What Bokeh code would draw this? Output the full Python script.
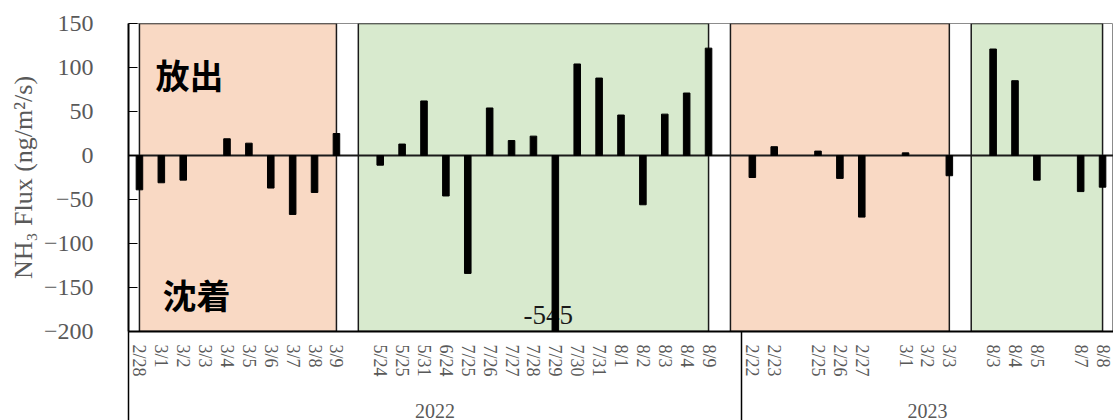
import math
from bokeh.plotting import figure
from bokeh.models import Range1d, FixedTicker, LinearAxis
from bokeh.core.properties import value
from bokeh.embed import file_html
from bokeh.resources import INLINE

# ---- data -------------------------------------------------------------
dates_2022 = ["2/28", "3/1", "3/2", "3/3", "3/4", "3/5", "3/6", "3/7", "3/8", "3/9", "",
              "5/24", "5/25", "5/31", "6/24", "7/25", "7/26", "7/27", "7/28", "7/29",
              "7/30", "7/31", "8/1", "8/2", "8/3", "8/4", "8/9", ""]
flux_2022 = [-39, -31, -28, None, 19, 14, -37, -67, -42, 25, None,
             -11, 13, 62, -46, -134, 54, 17, 22, -545,
             104, 88, 46, -56, 47, 71, 122, None]
dates_2023 = ["2/22", "2/23", "", "2/25", "2/26", "2/27", "", "3/1", "3/2", "3/3", "",
              "8/3", "8/4", "8/5", "", "8/7", "8/8"]
flux_2023 = [-25, 10, None, 5, -26, -70, None, 3, None, -23, None,
             121, 85, -28, None, -41, -36]
years = ["2022", "2023"]

# measurement periods (first / last category index) and their season
period_first = [0, 10, 27, 38]
period_last = [9, 26, 37, 44]
period_season = ["winter", "summer", "winter", "summer"]
season_color = {"winter": "#F9D9C4", "summer": "#D8EACE"}

y_ticks = [-200, -150, -100, -50, 0, 50, 100, 150]
Y_MIN, Y_MAX = -200, 150

# ---- derived ----------------------------------------------------------
dates = dates_2022 + dates_2023
flux = flux_2022 + flux_2023
year_sizes = [len(dates_2022), len(dates_2023)]

bar_x = [i for i, v in enumerate(flux) if v is not None]
bar_top = [flux[i] for i in bar_x]

label_idx = [i for i, d in enumerate(dates) if d != ""]
overrides = {i: dates[i] for i in label_idx}

bounds = [-0.5]
for s in year_sizes:
    bounds.append(bounds[-1] + s)
year_centers = [(bounds[k] + bounds[k + 1]) / 2 for k in range(len(years))]

p = figure(width=1113, height=420,
           x_range=Range1d(-0.5, 44.5), y_range=Range1d(Y_MIN, Y_MAX),
           output_backend="svg", toolbar_location=None,
           min_border_left=128, min_border_right=0,
           min_border_top=23, min_border_bottom=89)
p.background_fill_color = "white"
p.border_fill_color = "white"
p.outline_line_color = "#8c8c8c"
p.outline_line_width = 1
p.grid.visible = False

# seasonal backgrounds
p.quad(left=period_first, right=period_last,
       bottom=[Y_MIN] * len(period_first), top=[Y_MAX] * len(period_first),
       fill_color=[season_color[s] for s in period_season],
       line_color="#1a1a1a", line_width=1.5)

# zero line
p.hspan(y=[0], line_color="#1a1a1a", line_width=2)

# label for out-of-range values
off_x = [i for i in bar_x if flux[i] < Y_MIN]
p.text(x=off_x, y=[Y_MIN] * len(off_x), text=[str(flux[i]) for i in off_x],
       text_font=value("Liberation Serif"), text_font_size="27px",
       text_color="#1a1a1a", text_align="center", text_baseline="bottom",
       x_offset=-7, y_offset=-8)

# bars
p.vbar(x=bar_x, top=bar_top, bottom=0, width=0.3, fill_color="black", line_color="black")

# annotations
p.text(x=[0.73], y=[91.5], text=["放出"], text_font=value("Noto Sans CJK JP"),
       text_font_style="bold", text_font_size="34px", text_color="black",
       text_align="left", text_baseline="middle")
p.text(x=[1.05], y=[-158.5], text=["沈着"], text_font=value("Noto Sans CJK JP"),
       text_font_style="bold", text_font_size="34px", text_color="black",
       text_align="left", text_baseline="middle")

# y axis
ya = p.yaxis[0]
ya.ticker = FixedTicker(ticks=y_ticks)
ya.axis_label = "NH₃ Flux (ng/m²/s)"
ya.axis_label_text_font = "Liberation Serif"
ya.axis_label_text_font_style = "normal"
ya.axis_label_text_font_size = "26px"
ya.axis_label_text_color = "#595959"
ya.axis_label_standoff = 3
ya.major_label_text_font = "Liberation Serif"
ya.major_label_text_font_size = "24px"
ya.major_label_text_color = "#595959"
ya.major_label_standoff = 35
ya.major_tick_in = 9
ya.major_tick_out = 0
ya.major_tick_line_color = "black"
ya.major_tick_line_width = 1
ya.minor_tick_line_color = None
ya.axis_line_color = "black"
ya.axis_line_width = 2

# date axis
xa = p.xaxis[0]
xa.ticker = FixedTicker(ticks=label_idx, minor_ticks=[])
xa.major_label_overrides = overrides
xa.major_label_orientation = -math.pi / 2
xa.major_label_text_font = "Liberation Serif"
xa.major_label_text_font_size = "18px"
xa.major_label_text_color = "#595959"
xa.major_label_standoff = 13
xa.major_tick_in = 0
xa.major_tick_out = 0
xa.minor_tick_line_color = None
xa.axis_line_color = "black"
xa.axis_line_width = 2

# year axis
yr = LinearAxis(ticker=FixedTicker(ticks=year_centers, minor_ticks=[]),
                major_label_overrides={c: y for c, y in zip(year_centers, years)})
yr.major_label_text_font = "Liberation Serif"
yr.major_label_text_font_size = "20px"
yr.major_label_text_color = "#595959"
yr.major_label_standoff = 18
yr.axis_line_color = None
yr.major_tick_line_color = None
yr.minor_tick_line_color = None
p.add_layout(yr, "below")

# group separators (drawn upward from the bottom edge)
sep = LinearAxis(ticker=FixedTicker(ticks=[], minor_ticks=[bounds[0] + 0.02] + bounds[1:-1]))
sep.major_label_standoff = 0
sep.major_tick_out = 0
sep.major_tick_in = 0
sep.minor_tick_out = 0
sep.minor_tick_in = 89
sep.minor_tick_line_color = "black"
sep.minor_tick_line_width = 1.5
sep.axis_line_color = None
p.add_layout(sep, "below")

open("out.html", "w").write(file_html(p, INLINE))
